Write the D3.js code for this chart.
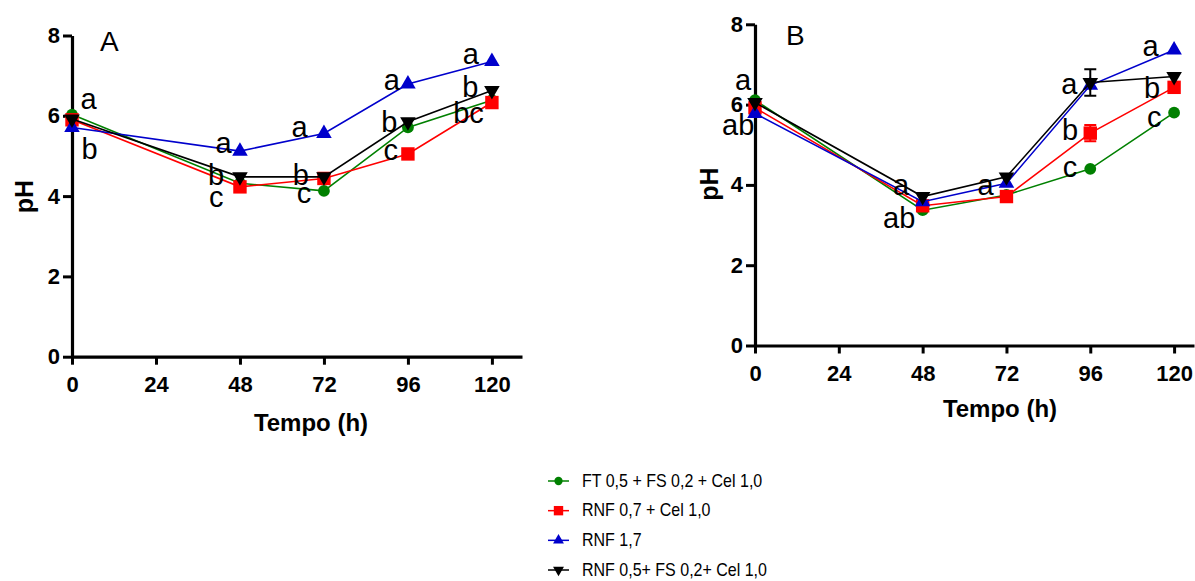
<!DOCTYPE html>
<html><head><meta charset="utf-8">
<script src="https://cdn.jsdelivr.net/npm/d3@7"></script>
<style>body{margin:0;background:#fff}svg{display:block}text{font-family:"Liberation Sans",Arial,sans-serif}</style>
</head><body>
<svg id="c" width="1195" height="581"></svg>
<script>
// ---- data ----
const hours = [0, 48, 72, 96, 120];
const xTicks = [0, 24, 48, 72, 96, 120];
const yTicks = [0, 2, 4, 6, 8];
const seriesNames = ["FT 0,5 + FS 0,2 + Cel 1,0", "RNF 0,7 + Cel 1,0", "RNF 1,7", "RNF 0,5+ FS 0,2+ Cel 1,0"];
const seriesColors = ["#008000", "#ff0000", "#0000cc", "#000000"];
const seriesShapes = ["circle", "square", "triangle", "triangleDown"];

// Panel A
const phA_FT = [6.03, 4.32, 4.13, 5.71, 6.39];
const phA_RNF07 = [5.90, 4.23, 4.44, 5.05, 6.33];
const phA_RNF17 = [5.71, 5.12, 5.56, 6.79, 7.35];
const phA_RNF05 = [5.92, 4.48, 4.48, 5.85, 6.63];
// Panel B
const phB_FT = [6.11, 3.37, 3.75, 4.40, 5.80];
const phB_RNF07 = [5.92, 3.48, 3.71, 5.29, 6.43];
const phB_RNF17 = [5.78, 3.58, 4.04, 6.48, 7.36];
const phB_RNF05 = [6.05, 3.71, 4.20, 6.55, 6.70];
const errB_RNF07 = [0, 0, 0, 0.20, 0];
const errB_RNF05 = [0, 0, 0, 0.33, 0];

// significance letters (placed in data units: hour, pH of baseline)
const lettersA = ["a", "b", "a", "b", "c", "a", "b", "c", "a", "b", "c", "a", "b", "bc"];
const letterHourA = [4.7, 5.0, 43.3, 41.2, 41.2, 65.0, 65.4, 66.3, 91.4, 90.7, 91.1, 114.0, 113.8, 113.3];
const letterPhA = [6.16, 4.92, 5.07, 4.28, 3.74, 5.46, 4.28, 3.84, 6.64, 5.60, 4.90, 7.29, 6.48, 5.81];
const lettersB = ["a", "ab", "a", "ab", "a", "a", "b", "c", "a", "b", "c"];
const letterHourB = [-3.4, -4.8, 41.8, 41.3, 66.0, 90.0, 90.2, 90.2, 113.3, 113.7, 114.3];
const letterPhB = [6.36, 5.24, 3.75, 2.92, 3.75, 6.26, 5.12, 4.20, 7.21, 6.16, 5.45];

const svg = d3.select("#c");

function marker(g, shape, x, y, color, scale) {
  const s = scale || 1;
  if (shape === "circle") {
    g.append("circle").attr("cx", x).attr("cy", y).attr("r", 5.9 * s).attr("fill", color);
  } else if (shape === "square") {
    const h = 6.7 * s;
    g.append("rect").attr("x", x - h).attr("y", y - h).attr("width", 2 * h).attr("height", 2 * h).attr("fill", color);
  } else {
    const sym = d3.symbol().type(d3.symbolTriangle).size(105 * s * s)();
    g.append("path").attr("d", sym).attr("fill", color)
      .attr("transform", `translate(${x},${y})` + (shape === "triangleDown" ? " rotate(180)" : ""));
  }
}

function panel(cfg) {
  const x = d3.scaleLinear().domain([0, cfg.xMax]).range([cfg.x0, cfg.x1]);
  const y = d3.scaleLinear().domain([0, 8]).range([cfg.y0, cfg.y1]);
  const g = svg.append("g");

  // axes
  const ax = g.append("g").attr("transform", `translate(0,${cfg.y0})`)
    .call(d3.axisBottom(x).tickValues(xTicks).tickSize(8).tickSizeOuter(0).tickPadding(12).tickFormat(d3.format("d")));
  const ay = g.append("g").attr("transform", `translate(${cfg.x0},0)`)
    .call(d3.axisLeft(y).tickValues(yTicks).tickSize(9).tickSizeOuter(0).tickPadding(3).tickFormat(d3.format("d")));
  [ax, ay].forEach(a => {
    a.select(".domain").attr("stroke", "#000").attr("stroke-width", 3.2);
    a.selectAll(".tick line").attr("stroke", "#000").attr("stroke-width", 3);
    a.selectAll(".tick text").attr("font-size", 22).attr("font-weight", "bold").attr("fill", "#000")
      .style("font-family", '"Liberation Sans", Arial, sans-serif');
  });
  ax.selectAll(".tick text").attr("y", 20);

  // titles
  g.append("text").attr("x", cfg.titleX).attr("y", cfg.titleY).attr("text-anchor", "middle")
    .attr("font-size", 24).attr("font-weight", "bold").text("Tempo (h)");
  g.append("text").attr("transform", `translate(${cfg.phX},${cfg.phY}) rotate(-90)`)
    .attr("text-anchor", "middle").attr("dominant-baseline", "central")
    .attr("font-size", 25).attr("font-weight", "bold").text("pH");
  g.append("text").attr("x", cfg.labX).attr("y", cfg.labY).attr("font-size", 28).text(cfg.label);

  // series
  const line = d3.line().x((d, i) => x(hours[i])).y(d => y(d));
  cfg.series.forEach((vals, k) => {
    const sg = g.append("g");
    sg.append("path").attr("d", line(vals)).attr("fill", "none")
      .attr("stroke", seriesColors[k]).attr("stroke-width", 1.6);
    const errs = cfg.errors[k];
    if (errs) {
      errs.forEach((e, i) => {
        if (!e) return;
        const cx = x(hours[i]), ya = y(vals[i] - e), yb = y(vals[i] + e);
        sg.append("path").attr("d", `M${cx},${ya}V${yb}M${cx - 6},${ya}H${cx + 6}M${cx - 6},${yb}H${cx + 6}`)
          .attr("stroke", seriesColors[k]).attr("stroke-width", 2).attr("fill", "none");
      });
    }
    vals.forEach((v, i) => marker(sg, seriesShapes[k], x(hours[i]), y(v), seriesColors[k]));
  });

  // letters
  cfg.letters.forEach((t, i) => {
    g.append("text").attr("x", x(cfg.letterHour[i])).attr("y", y(cfg.letterPh[i]))
      .attr("text-anchor", "middle").attr("font-size", 29).attr("fill", "#000").text(t);
  });
}

panel({
  x0: 72, x1: 522, xMax: 128.6, y0: 356.7, y1: 35.5,
  titleX: 311, titleY: 431, phX: 24, phY: 196.5, labX: 100, labY: 51, label: "A",
  series: [phA_FT, phA_RNF07, phA_RNF17, phA_RNF05],
  errors: [null, null, null, null],
  letters: lettersA, letterHour: letterHourA, letterPh: letterPhA
});
panel({
  x0: 755, x1: 1194, xMax: 125.7, y0: 345.5, y1: 24.3,
  titleX: 1000, titleY: 417, phX: 709, phY: 184, labX: 786, labY: 45, label: "B",
  series: [phB_FT, phB_RNF07, phB_RNF17, phB_RNF05],
  errors: [null, errB_RNF07, null, errB_RNF05],
  letters: lettersB, letterHour: letterHourB, letterPh: letterPhB
});

// legend
const legendY = d3.scalePoint().domain(seriesNames).range([481, 570]);
const lg = svg.append("g");
seriesNames.forEach((name, k) => {
  const yy = legendY(name);
  lg.append("line").attr("x1", 548).attr("x2", 569).attr("y1", yy).attr("y2", yy)
    .attr("stroke", seriesColors[k]).attr("stroke-width", 1.5);
  marker(lg, seriesShapes[k], 558.5, yy, seriesColors[k], 0.7);
  lg.append("text").attr("transform", `translate(582,${yy}) scale(0.89,1)`)
    .attr("dominant-baseline", "central").attr("font-size", 18).attr("fill", "#000").text(name);
});
</script>
</body></html>
